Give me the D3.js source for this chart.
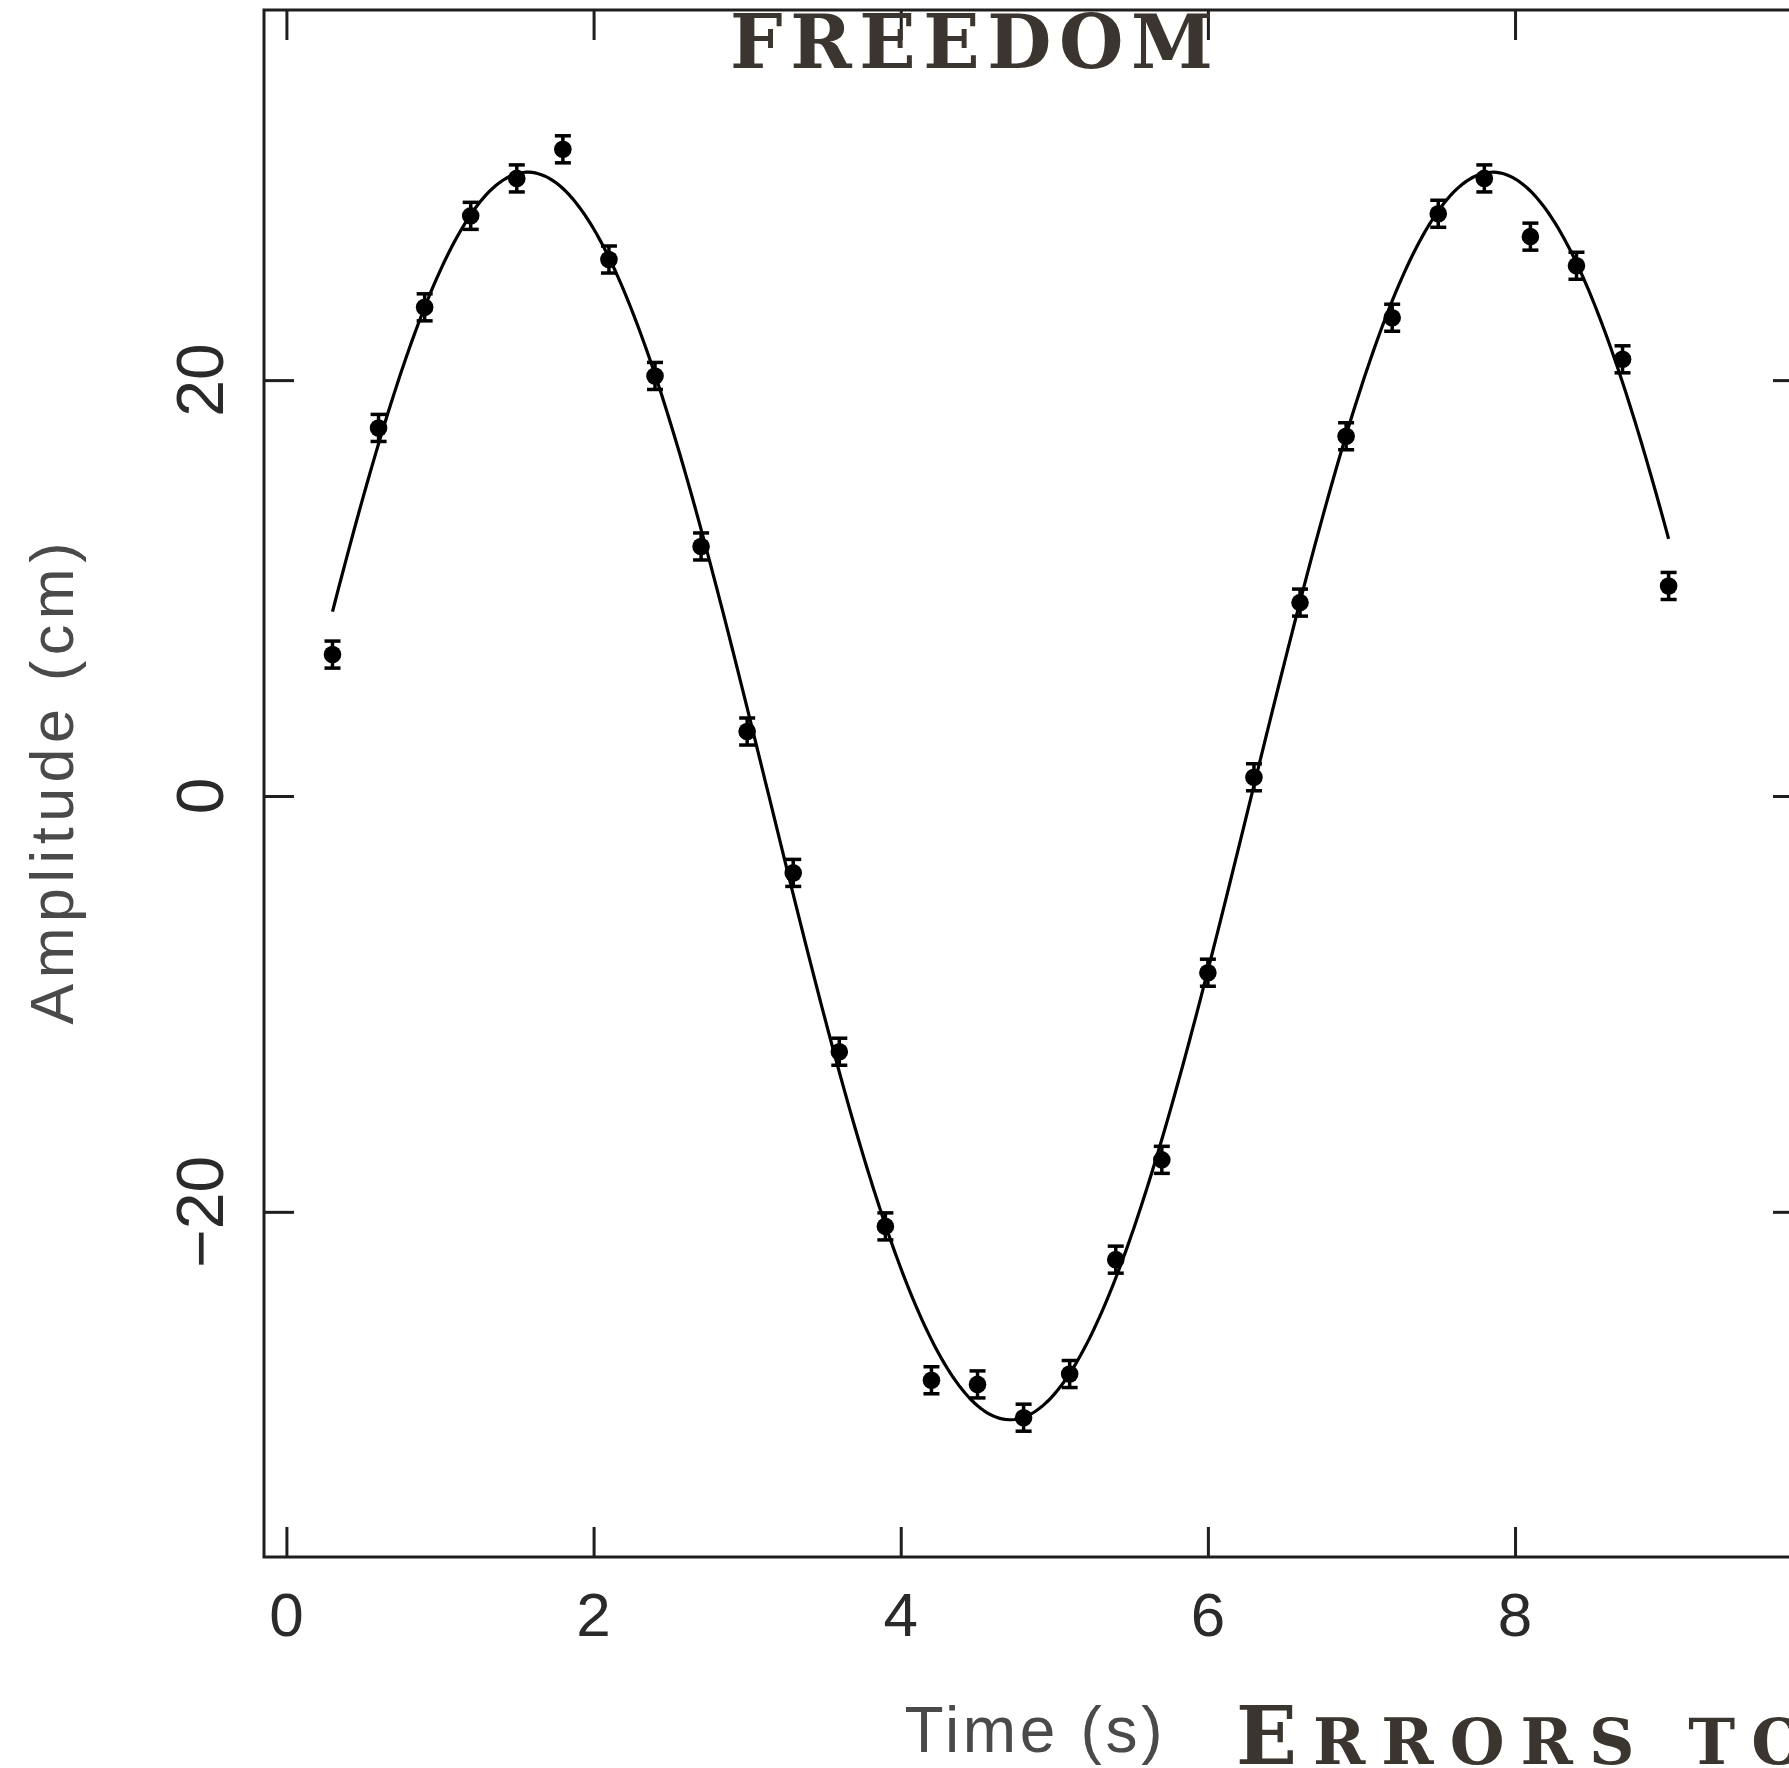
<!DOCTYPE html>
<html>
<head>
<meta charset="utf-8">
<script src="https://cdn.jsdelivr.net/npm/d3@7"></script>
<style>
  html, body { margin: 0; padding: 0; background: #ffffff; }
  svg { display: block; }
</style>
</head>
<body>
<svg id="chart" width="1789" height="1768"></svg>
<script>
// Measured oscillation: time (s), amplitude (cm) and one-sigma errors
const times = [0.3, 0.6, 0.9, 1.2, 1.5, 1.8, 2.1, 2.4, 2.7, 3.0,
               3.3, 3.6, 3.9, 4.2, 4.5, 4.8, 5.1, 5.4, 5.7, 6.0,
               6.3, 6.6, 6.9, 7.2, 7.5, 7.8, 8.1, 8.4, 8.7, 9.0];
const amplitudes = [6.8, 17.7, 23.5, 27.9, 29.7, 31.1, 25.8, 20.2, 12.0, 3.1,
                    -3.7, -12.3, -20.7, -28.1, -28.3, -29.9, -27.8, -22.3, -17.5, -8.5,
                    0.9, 9.3, 17.3, 23.0, 28.0, 29.7, 26.9, 25.5, 21.0, 10.1];
const errors = [0.65, 0.65, 0.65, 0.65, 0.65, 0.65, 0.65, 0.65, 0.65, 0.65,
                0.65, 0.65, 0.65, 0.65, 0.65, 0.65, 0.65, 0.65, 0.65, 0.65,
                0.65, 0.65, 0.65, 0.65, 0.65, 0.65, 0.65, 0.65, 0.65, 0.65];

// Best-fit model y = A sin(omega t + phi)
const fitAmplitude = 30;
const fitOmega = 1.0;
const fitPhase = 0.0;
const fitRange = [0.3, 9.0];

// Axis ticks and labels
const xTicks = [0, 2, 4, 6, 8];
const yTicks = [-20, 0, 20];
const xDomain = [-0.146, 9.875];
const yDomain = [-36.6, 37.8];

const xTitle = "Time (s)";
const yTitle = "Amplitude (cm)";
const topCaption = "FREEDOM";
const bottomCaptionInitial = "E";
const bottomCaptionRest = "RRORS TO";

const svg = d3.select("#chart");
const frame = { left: 264, right: 1803, top: 10, bottom: 1557 };

const x = d3.scaleLinear().domain(xDomain).range([frame.left, frame.right]);
const y = d3.scaleLinear().domain(yDomain).range([frame.bottom, frame.top]);

const ink = "#1e1e1e";
const labelFont = "'Liberation Sans', Arial, Helvetica, sans-serif";

// Axes with inward ticks on all four sides
function styleAxis(g) {
  g.select(".domain").remove();
  g.selectAll(".tick line").attr("stroke", ink).attr("stroke-width", 3);
  g.selectAll(".tick text").remove();
}
svg.append("g").attr("transform", `translate(0,${frame.bottom})`)
  .call(d3.axisBottom(x).tickValues(xTicks).tickSize(-30).tickSizeOuter(0)).call(styleAxis);
svg.append("g").attr("transform", `translate(0,${frame.top})`)
  .call(d3.axisTop(x).tickValues(xTicks).tickSize(-30).tickSizeOuter(0)).call(styleAxis);
svg.append("g").attr("transform", `translate(${frame.left},0)`)
  .call(d3.axisLeft(y).tickValues(yTicks).tickSize(-30).tickSizeOuter(0)).call(styleAxis);
svg.append("g").attr("transform", `translate(${frame.right},0)`)
  .call(d3.axisRight(y).tickValues(yTicks).tickSize(-30).tickSizeOuter(0)).call(styleAxis);

// Plot frame
svg.append("rect")
  .attr("x", frame.left).attr("y", frame.top)
  .attr("width", frame.right - frame.left).attr("height", frame.bottom - frame.top)
  .attr("fill", "none").attr("stroke", ink).attr("stroke-width", 3);

// Tick labels
svg.append("g").selectAll("text").data(xTicks).join("text")
  .attr("x", d => x(d)).attr("y", 1636)
  .attr("text-anchor", "middle")
  .attr("font-family", labelFont).attr("font-size", 62)
  .attr("fill", "#2a2a2a")
  .text(d => d3.format("d")(d));

svg.append("g").selectAll("text").data(yTicks).join("text")
  .attr("transform", d => `translate(223,${y(d)}) rotate(-90)`)
  .attr("text-anchor", "middle")
  .attr("font-family", labelFont).attr("font-size", 66)
  .attr("fill", "#2a2a2a")
  .text(d => d < 0 ? "\u2212" + Math.abs(d) : String(d));

// Axis titles
svg.append("text")
  .attr("x", (frame.left + frame.right) / 2).attr("y", 1752)
  .attr("text-anchor", "middle")
  .attr("font-family", labelFont).attr("font-size", 64)
  .attr("fill", "#4a4a4a")
  .attr("textLength", 258).attr("lengthAdjust", "spacing")
  .text(xTitle);

svg.append("text")
  .attr("transform", `translate(73,${(frame.top + frame.bottom) / 2}) rotate(-90)`)
  .attr("text-anchor", "middle")
  .attr("font-family", labelFont).attr("font-size", 61)
  .attr("fill", "#4a4a4a")
  .attr("textLength", 482).attr("lengthAdjust", "spacing")
  .text(yTitle);

// Fitted sinusoid
const fitTimes = d3.range(fitRange[0], fitRange[1] + 1e-9, 0.02);
const fitLine = d3.line()
  .x(t => x(t))
  .y(t => y(fitAmplitude * Math.sin(fitOmega * t + fitPhase)));
svg.append("path")
  .datum(fitTimes)
  .attr("d", fitLine)
  .attr("fill", "none").attr("stroke", "#000").attr("stroke-width", 3.2);

// Data points with error bars
const points = times.map((t, i) => ({ t, a: amplitudes[i], e: errors[i] }));
const pts = svg.append("g").selectAll("g").data(points).join("g");
pts.append("line")
  .attr("x1", d => x(d.t)).attr("x2", d => x(d.t))
  .attr("y1", d => y(d.a - d.e)).attr("y2", d => y(d.a + d.e))
  .attr("stroke", "#000").attr("stroke-width", 3.5);
pts.append("line")
  .attr("x1", d => x(d.t) - 8).attr("x2", d => x(d.t) + 8)
  .attr("y1", d => y(d.a + d.e)).attr("y2", d => y(d.a + d.e))
  .attr("stroke", "#000").attr("stroke-width", 3.5);
pts.append("line")
  .attr("x1", d => x(d.t) - 8).attr("x2", d => x(d.t) + 8)
  .attr("y1", d => y(d.a - d.e)).attr("y2", d => y(d.a - d.e))
  .attr("stroke", "#000").attr("stroke-width", 3.5);
pts.append("circle")
  .attr("cx", d => x(d.t)).attr("cy", d => y(d.a))
  .attr("r", 8.8).attr("fill", "#000");

// Captions
const captionFont = "'DejaVu Serif', 'Liberation Serif', serif";
const captionInk = "#3a352e";
svg.append("text")
  .attr("x", 730).attr("y", 68)
  .attr("font-family", captionFont).attr("font-weight", "bold")
  .attr("font-size", 74).attr("fill", captionInk)
  .attr("textLength", 483).attr("lengthAdjust", "spacing")
  .text(topCaption);

const bottomCaption = svg.append("text")
  .attr("x", 1236).attr("y", 1764)
  .attr("font-family", captionFont).attr("font-weight", "bold")
  .attr("fill", captionInk).attr("letter-spacing", 16);
bottomCaption.append("tspan").attr("font-size", 80).text(bottomCaptionInitial);
bottomCaption.append("tspan").attr("font-size", 63).text(bottomCaptionRest);
</script>
</body>
</html>
